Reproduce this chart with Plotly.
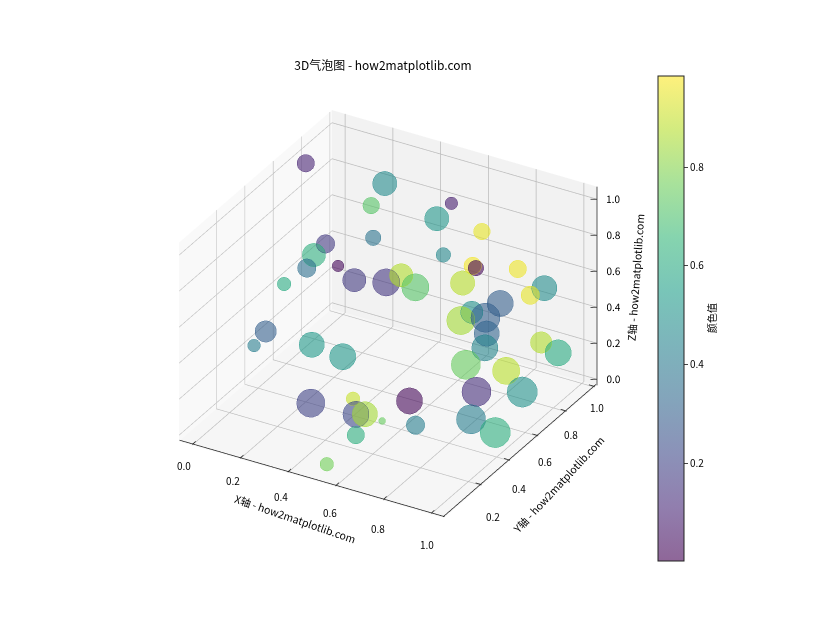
import plotly.graph_objects as go

FONT = "Noto Sans CJK SC, Noto Sans, sans-serif"
TITLE = "3D气泡图 - how2matplotlib.com"
X_TITLE = "X轴 - how2matplotlib.com"
Y_TITLE = "Y轴 - how2matplotlib.com"
Z_TITLE = "Z轴 - how2matplotlib.com"
CB_TITLE = "颜色值"

x_vals = [.004,.267,.269,.248,.12,.232,.221,.095,.136,.305,.341,.543,.595,.585,.486,.711,.494,.734,.608,.851,
          .692,.895,.913,.739,.719,.822,.708,.806,.816,.902,.92,.853,.93,.141,.12,.297,.474,.361,.516,.544,
          .644,.652,.584,.519,.736,.771,.877,.913,.923,.96]
y_vals = [.729,.843,.744,.794,.673,.402,.371,.804,.354,.564,.728,.494,.506,.778,.841,.781,.875,.677,.912,.798,
          .676,.911,.782,.862,.696,.444,.81,.654,.624,.877,.966,.427,.582,.215,.169,.277,.197,.162,.2,.173,
          .067,.177,.105,.01,.227,.211,.462,.724,.346,.454]
z_vals = [.994,.905,.85,.629,.629,.795,.739,.407,.629,.573,.463,.739,.684,.96,.795,.85,.573,.739,.518,.684,
          .629,.518,.573,.407,.463,.629,.352,.407,.352,.242,.131,.407,.297,.463,.407,.407,.463,.186,.242,.186,
          .297,.186,.131,.009,.297,.186,.242,.076,.186,.053]
color_vals = [.1,.47,.72,.38,.17,.62,.36,.02,.6,.17,.16,.87,.72,.08,.52,.95,.46,.97,.01,.96,
              .88,.48,.95,.3,.5,.85,.3,.32,.45,.87,.6,.75,.88,.3,.42,.53,.52,.2,.9,.22,
              .85,.75,.62,.77,.02,.42,.13,.5,.42,.62]
size_vals = [18,25,17,16,19,24,19,12,14,24,28,24,28,13,25,17,15,18,16,18,
             25,26,19,27,23,29,30,26,27,22,27,30,28,22,13,26,27,29,14,27,
             26,7,18,14,27,19,30,31,30,31]
x_ticks = [0,.2,.4,.6,.8,1]
y_ticks = [.2,.4,.6,.8,1]
z_ticks = [0,.2,.4,.6,.8,1]
cb_ticks = [.2,.4,.6,.8]
x_range = [-.055,1.055]
y_range = [-.065,1.015]
z_range = [-.034,1.07]
viridis = ["#440154","#482878","#3e4989","#31688e","#26828e","#1f9e89","#35b779","#6ece58","#b5de2b","#fde725"]
alpha = 0.6
cmin, cmax = .002, .985
size_scale = 1.13

def channels(h):
    return [int(h[i:i+2],16) for i in (1,3,5)]
def rgba(h):
    r,g,b = channels(h)
    return f"rgba({r},{g},{b},{alpha})"
def edge(h):
    r,g,b = [max(0,round(1.1*c-25)) for c in channels(h)]
    return f"rgb({r},{g},{b})"
bar_scale = [[i/(len(viridis)-1), rgba(c)] for i, c in enumerate(viridis)]
mark_scale = [[i/(len(viridis)-1), c] for i, c in enumerate(viridis)]
edge_scale = [[i/(len(viridis)-1), edge(c)] for i, c in enumerate(viridis)]

def axis(rng, ticks, wall):
    return dict(title=dict(text=""), range=rng, tickmode="array", tickvals=ticks,
                showticklabels=False, ticks="", showline=False,
                showgrid=True, gridcolor="#bbbbbb", gridwidth=1.5, zeroline=False, showspikes=False,
                showbackground=True, backgroundcolor=wall)

def segments(points):
    xs, ys, zs = [], [], []
    for a, b in points:
        xs += [a[0], b[0], None]; ys += [a[1], b[1], None]; zs += [a[2], b[2], None]
    return xs, ys, zs

xlo, xhi = x_range; ylo, yhi = y_range; zlo, zhi = z_range
eps = .004
segs = [((xlo,ylo+eps,zlo+eps),(xhi,ylo+eps,zlo+eps)), ((xhi-eps,ylo,zlo+eps),(xhi-eps,yhi,zlo+eps)), ((xhi,yhi,zlo),(xhi,yhi,zhi))]
segs += [((t,ylo,zlo+eps),(t,ylo+.025,zlo+eps)) for t in x_ticks]
segs += [((xhi-.025,t,zlo+eps),(xhi,t,zlo+eps)) for t in y_ticks]
segs += [((xhi-.02,yhi-.012,t),(xhi,yhi,t)) for t in z_ticks]
lx, ly, lz = segments(segs)

fig = go.Figure()
fig.add_trace(go.Scatter3d(
    x=x_vals, y=y_vals, z=z_vals, mode="markers", hoverinfo="skip",
    marker=dict(size=[s*size_scale for s in size_vals], sizemode="diameter", color=color_vals, colorscale=mark_scale, cmin=cmin, cmax=cmax,
                opacity=alpha, showscale=False,
                line=dict(width=1, color=color_vals, colorscale=edge_scale, cmin=cmin, cmax=cmax))))
fig.add_trace(go.Scatter3d(
    x=x_vals[:1], y=y_vals[:1], z=z_vals[:1], mode="markers", hoverinfo="skip",
    marker=dict(size=0.01, color=color_vals[:1], colorscale=bar_scale, cmin=cmin, cmax=cmax, opacity=0,
                colorbar=dict(x=650/832, xanchor="left", thickness=26, len=485/622, y=1-310.5/622, yanchor="middle",
                              xpad=0, ypad=0, tickvals=cb_ticks, ticktext=[f"{t:.1f}" for t in cb_ticks],
                              ticks="outside", ticklen=4, outlinewidth=1, outlinecolor="#222",
                              tickfont=dict(size=10, color="#000", family=FONT)))))
fig.add_trace(go.Scatter3d(x=lx, y=ly, z=lz, mode="lines", hoverinfo="skip", line=dict(color="#222", width=1.5)))
fig.add_trace(go.Scatter3d(x=[xhi]*len(z_ticks), y=[yhi]*len(z_ticks), z=z_ticks, mode="text", hoverinfo="skip",
    text=[f"{t:.1f}" for t in z_ticks], textposition="middle right",
    textfont=dict(size=10, color="#000", family=FONT)))
def note(text, px, py, angle, size):
    return dict(text=text, xref="paper", yref="paper", x=px/832, y=1-py/622, xanchor="center", yanchor="middle",
                showarrow=False, textangle=angle, font=dict(size=size, color="#000", family=FONT))
x_tick_notes = [note(f"{t:.1f}", 176+243*t, 457+79*t, 0, 10) for t in x_ticks]
y_tick_notes = [note(f"{t:.1f}", 485+104*(t-.2)/.8, 508-109*(t-.2)/.8, 0, 10) for t in y_ticks]
fig.update_layout(
    width=832, height=622, margin=dict(l=0, r=0, t=0, b=0), paper_bgcolor="white", showlegend=False,
    title=dict(text=TITLE, x=375/832, xanchor="center", y=1-58/622, yanchor="middle", font=dict(size=12, color="#000", family=FONT)),
    annotations=[note(CB_TITLE,703,310,-90,10), note(X_TITLE,287,510,19,10.5),
                 note(Y_TITLE,550,476,-47,10.5), note(Z_TITLE,627,270,-86,10.5)] + x_tick_notes + y_tick_notes,
    scene=dict(domain=dict(x=[0,760/832], y=[1-612/622,1]),
               xaxis=axis(x_range, x_ticks, "#f9f9f9"),
               yaxis=axis(y_range, y_ticks, "#f2f2f2"),
               zaxis=axis(z_range, z_ticks, "#f6f6f6"),
               aspectmode="manual", aspectratio=dict(x=1,y=1,z=.75),
               camera=dict(projection=dict(type="orthographic"),
                           center=dict(x=0,y=0,z=0), up=dict(x=0,y=0,z=1),
                           eye=dict(x=.433*2.013,y=-.75*2.013,z=.5*2.013))),
)
fig.write_html("out.html")
